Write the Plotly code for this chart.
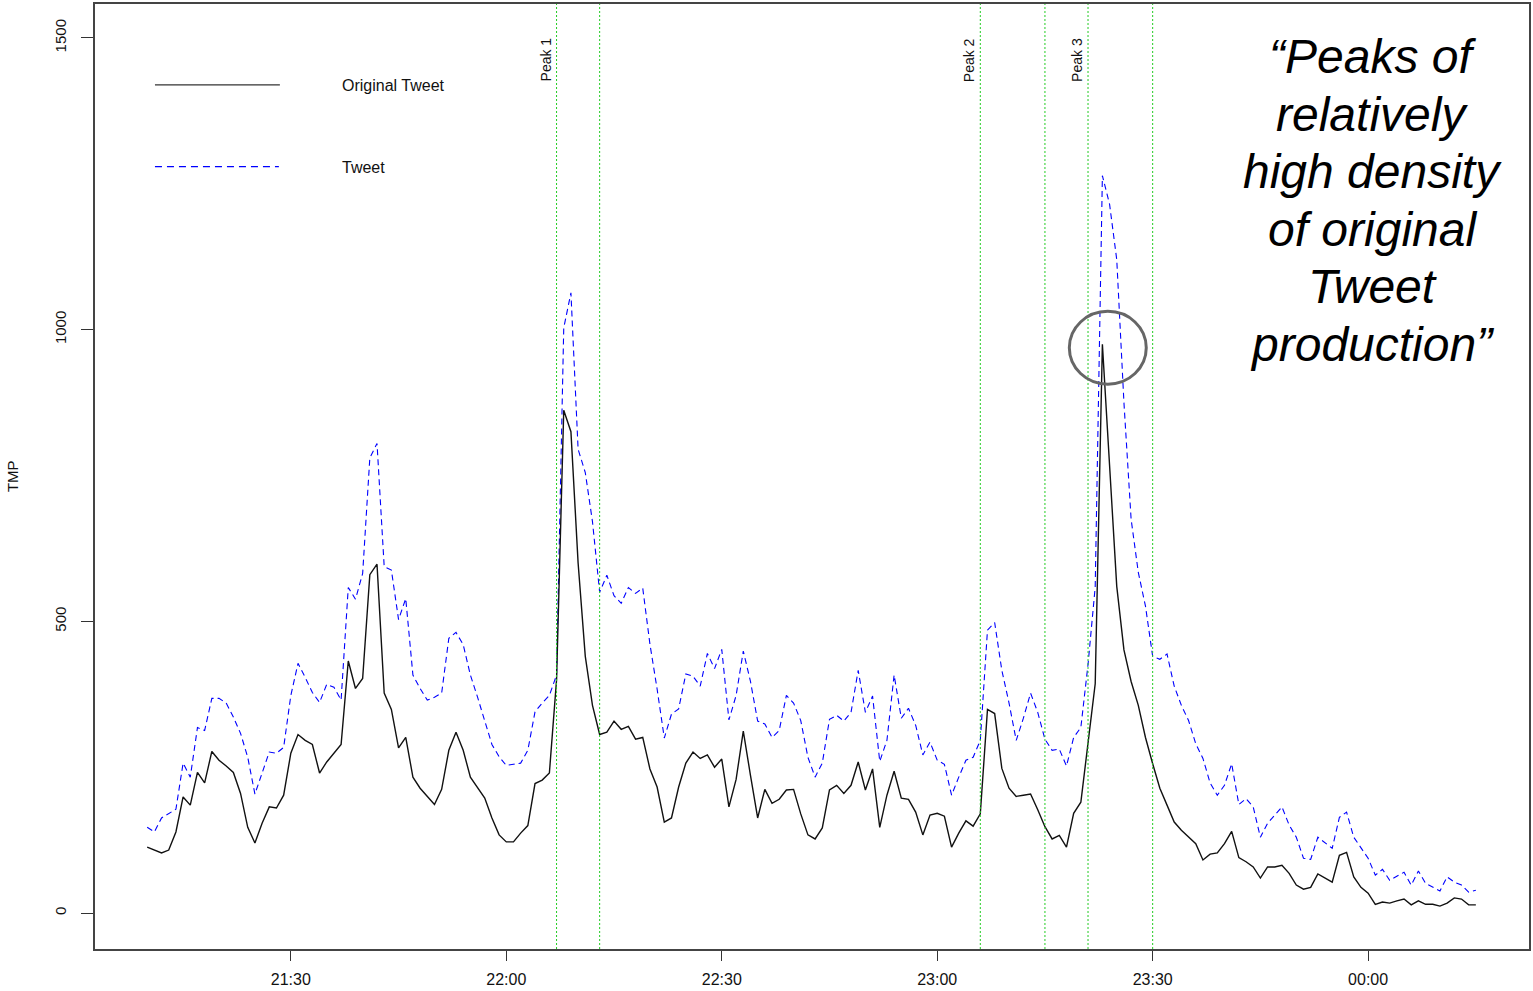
import pandas as pd
import plotly.graph_objects as go

# ---- data (per-minute counts, 21:10 .. 00:15) ----
start_time = "2012-01-01 21:10"
n_points = 186
times = pd.date_range(start_time, periods=n_points, freq="min")

original_tweet = [
    113, 108, 103, 108, 139, 199, 185, 241, 223, 277,
    262, 252, 241, 205, 147, 120, 154, 182, 180, 202,
    274, 306, 296, 289, 240, 259, 275, 289, 432, 385,
    402, 580, 598, 377, 349, 283, 301, 233, 214, 199,
    186, 212, 279, 310, 279, 233, 216, 197, 163, 134,
    122, 122, 137, 150, 222, 228, 240, 400, 862, 825,
    600, 440, 356, 306, 310, 329, 315, 320, 298, 301,
    247, 216, 156, 163, 216, 257, 276, 265, 271, 250,
    264, 182, 229, 312, 236, 163, 212, 188, 195, 211,
    212, 170, 134, 127, 146, 211, 219, 205, 219, 259,
    211, 247, 147, 202, 243, 197, 195, 173, 134, 168,
    171, 166, 113, 137, 158, 149, 170, 349, 342, 248,
    214, 200, 202, 204, 177, 148, 127, 133, 113, 171,
    190, 293, 393, 975, 760, 560, 451, 397, 356, 301,
    256, 214, 185, 156, 142, 130, 119, 91, 101, 103,
    119, 140, 95, 88, 79, 60, 79, 79, 82, 68,
    48, 41, 44, 67, 60, 53, 99, 104, 62, 44,
    34, 15, 19, 17, 21, 24, 14, 21, 15, 15,
    12, 17, 26, 24, 14, 14,
]

tweet = [
    147, 139, 163, 170, 178, 257, 233, 318, 313, 368,
    368, 360, 336, 308, 267, 204, 240, 276, 274, 284,
    373, 428, 404, 378, 361, 392, 387, 365, 558, 538,
    582, 780, 805, 594, 588, 503, 539, 408, 385, 365,
    370, 377, 471, 481, 460, 408, 370, 330, 289, 268,
    253, 255, 257, 279, 345, 360, 373, 408, 1003, 1063,
    795, 755, 671, 550, 579, 544, 531, 558, 548, 557,
    461, 384, 300, 341, 350, 410, 406, 389, 445, 419,
    452, 331, 373, 449, 397, 329, 324, 301, 313, 373,
    360, 330, 267, 233, 257, 332, 339, 329, 344, 416,
    344, 372, 260, 296, 408, 334, 351, 322, 271, 293,
    262, 255, 202, 233, 262, 267, 296, 485, 498, 416,
    360, 296, 334, 377, 344, 298, 279, 281, 252, 301,
    318, 426, 559, 1264, 1215, 1120, 875, 675, 584, 526,
    440, 435, 444, 389, 356, 330, 290, 265, 223, 202,
    219, 256, 186, 196, 182, 130, 154, 168, 182, 151,
    130, 94, 92, 130, 120, 111, 164, 173, 130, 113,
    94, 65, 75, 56, 63, 70, 48, 72, 51, 45,
    38, 62, 53, 48, 36, 39,
]

peak_lines = ["2012-01-01 22:07", "2012-01-01 22:13", "2012-01-01 23:06",
              "2012-01-01 23:15", "2012-01-01 23:21", "2012-01-01 23:30"]
peak_labels = ["Peak 1", "Peak 2", "Peak 3"]
peak_label_times = ["2012-01-01 22:07", "2012-01-01 23:06", "2012-01-01 23:21"]

x_tickvals = ["2012-01-01 21:30", "2012-01-01 22:00", "2012-01-01 22:30",
              "2012-01-01 23:00", "2012-01-01 23:30", "2012-01-02 00:00"]
x_ticktext = ["21:30", "22:00", "22:30", "23:00", "23:30", "00:00"]
y_tickvals = [0, 500, 1000, 1500]

quote_lines = ["\u201cPeaks of", "relatively", "high density", "of original", "Tweet", "production\u201d"]

FONT = "Liberation Sans, Arial, sans-serif"
W, H = 1533, 991
L, R, T, B = 95, 3, 2, 42
PW, PH = W - L - R, H - T - B


def px(xp):
    return (xp - L) / PW


def py(yp):
    return (H - B - yp) / PH


fig = go.Figure()
fig.add_trace(go.Scatter(x=times, y=tweet, mode="lines", name="Tweet",
                         line=dict(color="#0000ff", width=1.1, dash="6px,4px"),
                         showlegend=False))
fig.add_trace(go.Scatter(x=times, y=original_tweet, mode="lines", name="Original Tweet",
                         line=dict(color="#111111", width=1.4),
                         showlegend=False))

shapes = []
for t in peak_lines:
    shapes.append(dict(type="line", xref="x", yref="paper", x0=t, x1=t, y0=0, y1=1,
                       line=dict(color="#22cc22", width=1, dash="2px,2px")))
# legend samples
shapes.append(dict(type="line", xref="paper", yref="paper", x0=px(155), x1=px(280),
                   y0=py(83), y1=py(83), line=dict(color="#333333", width=1.4)))
shapes.append(dict(type="line", xref="paper", yref="paper", x0=px(155), x1=px(279),
                   y0=py(165), y1=py(165), line=dict(color="#0000ff", width=1.1, dash="7px,5px")))
# highlight circle
shapes.append(dict(type="circle", xref="paper", yref="paper", x0=px(1070), x1=px(1147),
                   y0=py(383), y1=py(310), line=dict(color="#666666", width=3)))

annotations = []
annotations.append(dict(x=px(340), y=py(84), xref="paper", yref="paper", text="Original Tweet",
                        showarrow=False, xanchor="left", yanchor="middle",
                        font=dict(family=FONT, size=16, color="#111")))
annotations.append(dict(x=px(340), y=py(166), xref="paper", yref="paper", text="Tweet",
                        showarrow=False, xanchor="left", yanchor="middle",
                        font=dict(family=FONT, size=16, color="#111")))
for lab, t in zip(peak_labels, peak_label_times):
    annotations.append(dict(x=t, y=py(58), xref="x", yref="paper", text=lab, textangle=-90,
                            showarrow=False, xanchor="center", yanchor="middle", xshift=-11,
                            font=dict(family=FONT, size=14, color="#111")))
baselines = [72, 130, 187, 245, 302, 360]
for line_txt, bl in zip(quote_lines, baselines):
    annotations.append(dict(x=px(1373), y=py(bl - 17), xref="paper", yref="paper",
                            text="<i>" + line_txt + "</i>", showarrow=False,
                            xanchor="center", yanchor="middle",
                            font=dict(family=FONT, size=48, color="#000")))
annotations.append(dict(x=px(12), y=py(475), xref="paper", yref="paper", text="TMP",
                        textangle=-90, showarrow=False, xanchor="center", yanchor="middle",
                        font=dict(family=FONT, size=15, color="#111")))

fig.update_layout(
    width=W, height=H,
    margin=dict(l=L, r=R, t=T, b=B, pad=0),
    paper_bgcolor="white", plot_bgcolor="white",
    shapes=shapes, annotations=annotations,
    showlegend=False,
)
fig.update_xaxes(
    type="date",
    range=["2012-01-01 21:02:44", "2012-01-02 00:22:24"],
    tickvals=x_tickvals, ticktext=x_ticktext,
    ticks="outside", ticklen=10, tickcolor="#333", tickwidth=1,
    ticklabelstandoff=5,
    showgrid=False, zeroline=False,
    showline=True, mirror=True, linecolor="#444", linewidth=1.5,
    tickfont=dict(family=FONT, size=16, color="#111"),
)
fig.update_yaxes(
    range=[-61.6, 1558.2],
    tickvals=y_tickvals, tickangle=-90,
    ticks="outside", ticklen=12, tickcolor="#333", tickwidth=1,
    ticklabelstandoff=9,
    showgrid=False, zeroline=False,
    showline=True, mirror=True, linecolor="#444", linewidth=1.5,
    tickfont=dict(family=FONT, size=15, color="#111"),
)

fig.write_html("out.html")
